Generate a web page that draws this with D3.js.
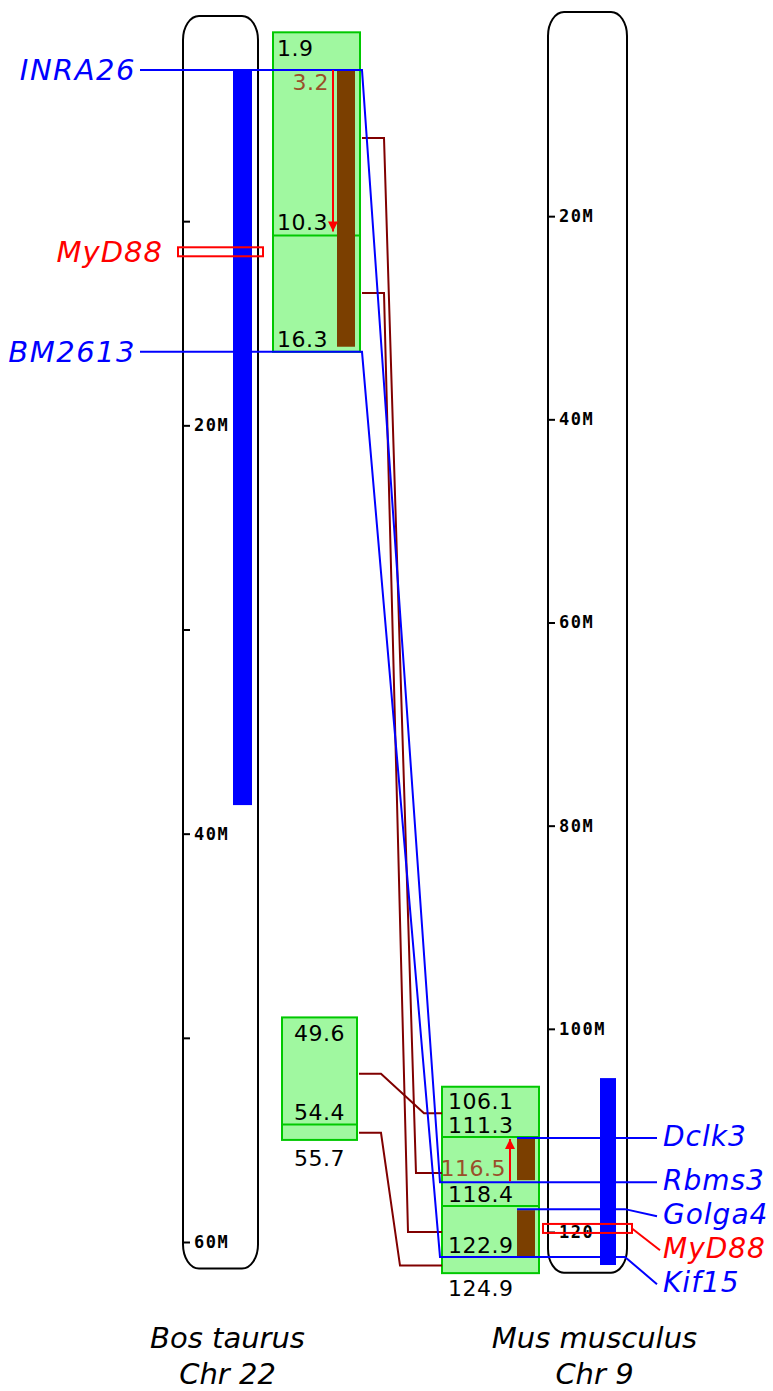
<!DOCTYPE html>
<html>
<head>
<meta charset="utf-8">
<script src="https://cdn.jsdelivr.net/npm/d3@7"></script>
<style>
  body { margin: 0; background: #fff; }
  svg { display: block; }
  text { font-family: 'DejaVu Sans', sans-serif; }
</style>
</head>
<body>
<div id="chart"></div>
<script>
// Bos taurus Chr 22 (Mb)
var bosLength = 61.3;
var bosTicks = [10, 20, 30, 40, 50, 60];
var bosTickLabels = ['', '20M', '', '40M', '', '60M'];
var bosMarkers = ['INRA26', 'BM2613'];
var bosMarkerPos = [2.6, 16.4];
var bosRegion = [2.6, 38.6];
var bosMyd88 = 11.5;

// Mus musculus Chr 9
var musLength = 124.0;
var musTicks = [20, 40, 60, 80, 100, 120];
var musTickLabels = ['20M', '40M', '60M', '80M', '100M', '120'];
var musMarkers = ['Dclk3', 'Rbms3', 'Golga4', 'Kif15'];
var musMarkerPos = [110.75, 115.1, 117.75, 122.45];
var musRegion = [104.85, 123.25];
var musMyd88 = 119.65;

// conserved blocks (start, cut, end) and the numbers printed in them
var bosBlockStart = [0.75, 49.0];
var bosBlockCut = [10.7, 54.25];
var bosBlockEnd = [16.4, 55.0];
var bosBlockTopText = ['1.9', '49.6'];
var bosBlockEndText = ['', '55.7'];
var bosNumPos = [10.7, 16.4, 54.25];
var bosNumText = ['10.3', '16.3', '54.4'];

var musBlockStart = [105.7];
var musBlockCuts = [110.65, 117.45];
var musBlockEnd = [124.05];
var musBlockTopText = ['106.1'];
var musBlockEndText = ['124.9'];
var musNumPos = [110.65, 117.45, 122.45];
var musNumText = ['111.3', '118.4', '122.9'];

// orthologue segments (brown bars) and orientation arrows
var bosSegments = [[2.6, 16.15]];
var musSegments = [[110.75, 114.9], [117.85, 122.45]];
var bosArrow = [2.6, 10.5];
var musArrow = [115.0, 110.85];
var bosArrowText = '3.2';
var musArrowText = '116.5';

// links between the two maps
var markerLinkFrom = ['INRA26', 'BM2613'];
var markerLinkTo = ['Rbms3', 'Kif15'];
var blockLinkBos = [5.93, 13.52, 51.76, 54.65];
var blockLinkMus = [114.2, 120.0, 108.3, 123.3];

var W = 773, H = 1391;
var BLUE = '#0000ff', RED = '#ff0000', MAROON = '#800000', BROWN = '#7b3f00';
var GREEN_FILL = '#a0f8a0', GREEN_LINE = '#00c800', LABEL_BROWN = '#9a4f2a';

var svg = d3.select('#chart').append('svg').attr('width', W).attr('height', H);

var yBos = d3.scaleLinear().domain([0, 60]).range([17, 1242]);
var yMus = d3.scaleLinear().domain([0, 120]).range([13, 1232]);

var bosChrom = { x: 183, w: 75, barX: 233, barW: 19 };
var musChrom = { x: 548, w: 79, barX: 600, barW: 16 };
var bosBoxes = [{ x: 273, w: 87, bar: true }, { x: 282, w: 75, bar: false }];
var musBox = { x: 442, w: 97 };
var leftLineX = 140, rightLineX = 657, rightLabelX = 663;

function drawChromosome(c, scale, len) {
    svg.append('rect')
        .attr('x', c.x).attr('y', scale(0) - 1)
        .attr('width', c.w).attr('height', scale(len) - scale(0) + 1)
        .attr('rx', 16).attr('ry', 24)
        .attr('fill', '#fff').attr('stroke', '#000').attr('stroke-width', 2);
}

function drawTicks(c, scale, values, labels) {
    var g = svg.append('g').attr('transform', 'translate(' + c.x + ',0)');
    g.call(d3.axisRight(scale).tickValues(values).tickSize(7).tickPadding(4)
        .tickFormat(function (d, i) { return labels[i]; }));
    g.select('.domain').remove();
    g.selectAll('.tick line').attr('stroke', '#000').attr('stroke-width', 2);
    g.selectAll('.tick text')
        .attr('fill', '#000')
        .style('font-family', "'DejaVu Sans Mono', monospace")
        .style('font-size', '17px')
        .style('font-weight', 'bold')
        .style('letter-spacing', '1.5px');
}

function drawRegion(c, scale, r) {
    svg.append('rect')
        .attr('x', c.barX).attr('y', scale(r[0]))
        .attr('width', c.barW).attr('height', scale(r[1]) - scale(r[0]))
        .attr('fill', BLUE);
}

function numText(x, y, t, anchor, color) {
    return svg.append('text')
        .attr('x', x).attr('y', y)
        .attr('text-anchor', anchor || 'start')
        .attr('fill', color || '#000')
        .style('font-size', '22px')
        .style('letter-spacing', '0.5px')
        .text(t);
}

function geneText(x, y, t, anchor, color, size, spacing) {
    return svg.append('text')
        .attr('x', x).attr('y', y)
        .attr('text-anchor', anchor)
        .attr('dominant-baseline', 'central')
        .attr('fill', color)
        .style('font-size', size + 'px')
        .style('font-style', 'italic')
        .style('letter-spacing', spacing + 'px')
        .text(t);
}

function line(pts, color) {
    svg.append('path')
        .attr('d', d3.line()(pts))
        .attr('fill', 'none')
        .attr('stroke', color)
        .attr('stroke-width', 2);
}

function arrow(x, y0, y1) {
    var dir = y1 > y0 ? 1 : -1;
    line([[x, y0], [x, y1]], RED);
    svg.append('path')
        .attr('d', 'M' + (x - 5) + ',' + (y1 - dir * 10) + 'L' + (x + 5) + ',' + (y1 - dir * 10) + 'L' + x + ',' + y1 + 'Z')
        .attr('fill', RED);
}

// chromosomes
drawChromosome(bosChrom, yBos, bosLength);
drawChromosome(musChrom, yMus, musLength);
drawTicks(bosChrom, yBos, bosTicks, bosTickLabels);
drawTicks(musChrom, yMus, musTicks, musTickLabels);
drawRegion(bosChrom, yBos, bosRegion);
drawRegion(musChrom, yMus, musRegion);

// green blocks on the cattle side
bosBoxes.forEach(function (b, i) {
    var y0 = yBos(bosBlockStart[i]), y1 = yBos(bosBlockEnd[i]), yc = yBos(bosBlockCut[i]);
    svg.append('rect').attr('x', b.x).attr('y', y0).attr('width', b.w).attr('height', y1 - y0)
        .attr('fill', GREEN_FILL).attr('stroke', GREEN_LINE).attr('stroke-width', 2);
    line([[b.x, yc], [b.x + b.w, yc]], GREEN_LINE);
});

// green block on the mouse side
(function () {
    var y0 = yMus(musBlockStart[0]), y1 = yMus(musBlockEnd[0]);
    svg.append('rect').attr('x', musBox.x).attr('y', y0).attr('width', musBox.w).attr('height', y1 - y0)
        .attr('fill', GREEN_FILL).attr('stroke', GREEN_LINE).attr('stroke-width', 2);
    musBlockCuts.forEach(function (v) {
        line([[musBox.x, yMus(v)], [musBox.x + musBox.w, yMus(v)]], GREEN_LINE);
    });
})();

// brown orthologue segments
var bosSegX = bosBoxes[0].x + bosBoxes[0].w - 23;
var musSegX = musBox.x + musBox.w - 22;
bosSegments.forEach(function (s) {
    svg.append('rect').attr('x', bosSegX).attr('y', yBos(s[0])).attr('width', 18)
        .attr('height', yBos(s[1]) - yBos(s[0])).attr('fill', BROWN);
});
musSegments.forEach(function (s) {
    svg.append('rect').attr('x', musSegX).attr('y', yMus(s[0])).attr('width', 18)
        .attr('height', yMus(s[1]) - yMus(s[0])).attr('fill', BROWN);
});

// block-to-block links
var targetRank = blockLinkMus.slice().sort(d3.ascending);
blockLinkBos.forEach(function (bv, i) {
    var box = bosBoxes[bv < bosBlockEnd[0] + 1 ? 0 : 1];
    var x0 = box.x + box.w, y0 = yBos(bv), y1 = yMus(blockLinkMus[i]);
    var k2 = musBox.x - 18 - 8 * targetRank.indexOf(blockLinkMus[i]);
    line([[x0 + 2, y0], [x0 + 24, y0], [k2, y1], [musBox.x, y1]], MAROON);
});

// right-hand label layout (markers plus MyD88)
var rightItems = musMarkers.map(function (m, i) {
    return { name: m, y: yMus(musMarkerPos[i]), color: BLUE };
});
rightItems.push({ name: 'MyD88', y: yMus(musMyd88), color: RED, myd: true });
rightItems.sort(function (a, b) { return a.y - b.y; });
rightItems.forEach(function (d, i) {
    d.ly = i === 0 ? d.y : Math.max(d.y, rightItems[i - 1].ly + 34);
});
function rightItem(name) {
    return rightItems.filter(function (d) { return d.name === name; })[0];
}

// marker lines on the mouse side that have no cattle partner
musMarkers.forEach(function (m, i) {
    if (markerLinkTo.indexOf(m) >= 0) return;
    var it = rightItem(m);
    line([[musSegX, it.y], [musChrom.x + musChrom.w - 2, it.y], [rightLineX, it.ly]], BLUE);
});

// marker-to-marker links
markerLinkFrom.forEach(function (m, i) {
    var yb = yBos(bosMarkerPos[bosMarkers.indexOf(m)]);
    var it = rightItem(markerLinkTo[i]);
    var xb = bosBoxes[0].x + bosBoxes[0].w + 2;
    line([[leftLineX, yb], [xb, yb], [musBox.x - 2, it.y],
          [musChrom.x + musChrom.w - 2, it.y], [rightLineX, it.ly]], BLUE);
});

// MyD88 boxes
function mydBox(c, y) {
    svg.append('rect').attr('x', c.x - 5).attr('y', y - 4.5)
        .attr('width', c.w + 10).attr('height', 9)
        .attr('fill', 'none').attr('stroke', RED).attr('stroke-width', 2);
}
mydBox(bosChrom, yBos(bosMyd88));
mydBox(musChrom, yMus(musMyd88));
(function () {
    var it = rightItem('MyD88');
    line([[musChrom.x + musChrom.w + 5, it.y], [rightLineX + 3, it.ly]], RED);
})();

// orientation arrows
arrow(bosSegX - 4, yBos(bosArrow[0]), yBos(bosArrow[1]));
arrow(musSegX - 7, yMus(musArrow[0]), yMus(musArrow[1]));
numText(bosSegX - 8, yBos(bosArrow[0]) + 20, bosArrowText, 'end', LABEL_BROWN);
numText(musSegX - 11, yMus(musArrow[0]) - 5, musArrowText, 'end', LABEL_BROWN);

// numbers in the blocks
bosBoxes.forEach(function (b, i) {
    var tx = b.bar ? b.x + 4 : b.x + b.w / 2;
    var an = b.bar ? 'start' : 'middle';
    numText(tx, yBos(bosBlockStart[i]) + 24, bosBlockTopText[i], an);
    numText(tx, yBos(bosBlockEnd[i]) + 26, bosBlockEndText[i], an);
    bosNumPos.forEach(function (v, j) {
        if (v >= bosBlockStart[i] && v <= bosBlockEnd[i]) numText(tx, yBos(v) - 5, bosNumText[j], an);
    });
});
numText(musBox.x + 6, yMus(musBlockStart[0]) + 22, musBlockTopText[0]);
numText(musBox.x + 6, yMus(musBlockEnd[0]) + 23, musBlockEndText[0]);
musNumPos.forEach(function (v, j) {
    numText(musBox.x + 6, yMus(v) - 4, musNumText[j]);
});

// gene labels
bosMarkers.forEach(function (m, i) {
    geneText(leftLineX - 4, yBos(bosMarkerPos[i]), m, 'end', BLUE, 29, 1.5);
});
geneText(bosChrom.x - 20, yBos(bosMyd88), 'MyD88', 'end', RED, 29, 1);
rightItems.forEach(function (d) {
    geneText(rightLabelX, d.ly - 2, d.name, 'start', d.color, 28, 1);
});

// species captions
function caption(c, a, b) {
    var cx = c.x + c.w / 2 + 7;
    [a, b].forEach(function (t, i) {
        svg.append('text')
            .attr('x', cx).attr('y', 1348 + i * 36)
            .attr('text-anchor', 'middle')
            .attr('fill', '#000')
            .style('font-size', '29px')
            .style('font-style', 'italic')
            .text(t);
    });
}
caption(bosChrom, 'Bos taurus', 'Chr 22');
caption(musChrom, 'Mus musculus', 'Chr 9');
</script>
</body>
</html>
